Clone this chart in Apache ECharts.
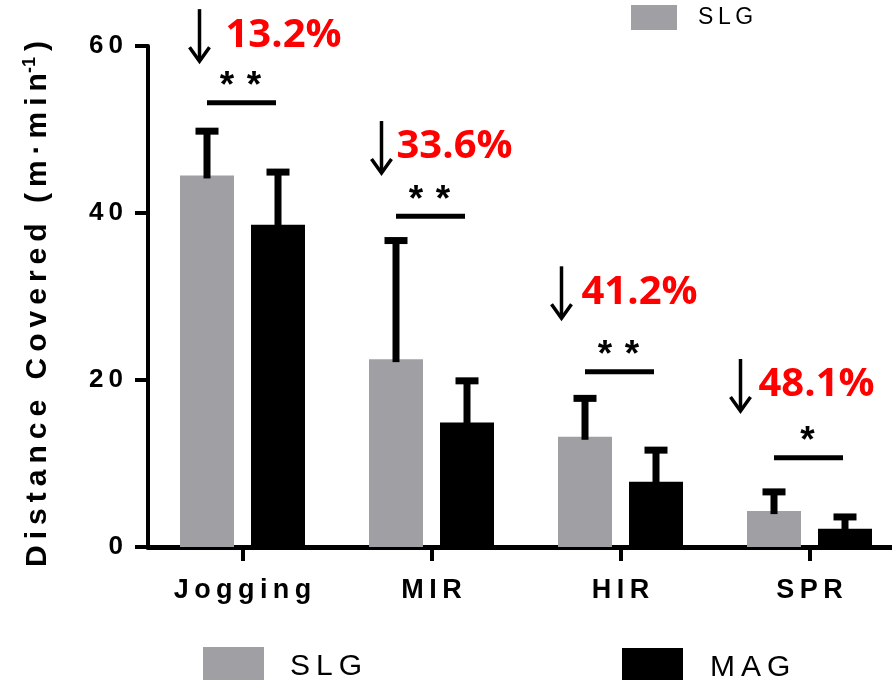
<!DOCTYPE html>
<html>
<head>
<meta charset="utf-8">
<script src="https://cdn.jsdelivr.net/npm/echarts@6/dist/echarts.min.js"></script>
<style>
  html, body { margin: 0; padding: 0; background: #ffffff; }
  #chart { width: 892px; height: 680px; }
</style>
</head>
<body>
<div id="chart"></div>
<script>
// ---- data ----
const categories = ['Jogging', 'MIR', 'HIR', 'SPR'];
const seriesNames = ['SLG', 'MAG'];
const slgMean = [44.5, 22.5, 13.2, 4.3];
const slgSD   = [5.3, 14.2, 4.6, 2.3];
const magMean = [38.6, 14.9, 7.8, 2.2];
const magSD   = [6.3, 5.0, 3.8, 1.4];
const yTicks = [0, 20, 40, 60];
const reductionLabels = ['13.2%', '33.6%', '41.2%', '48.1%'];
const significance = ['**', '**', '**', '*'];
const sigBarLevel = [53.2, 39.6, 21.0, 10.7];

// ---- layout / style constants ----
const FONT = '"Liberation Sans", Arial, sans-serif';
const GREY = '#a0a0a4';
const BAR_W = 54;
const BAR_GAP = 17;
const HALF_PAIR = (BAR_W + BAR_GAP) / 2;
const THIN = '\u2009';
// reduction note placement: [text left offset from category centre px, height in axis units, arrow offset left of text px]
const noteLayout = [
  [-15, 61.3, 28],
  [-33, 47.9, 17],
  [-37, 30.5, 22],
  [-49, 19.4, 20]
];

// letter-spaced text, as in the axis and legend labels
const spaced = s => s.split('').join(THIN);

function errorBarSeries(name, means, sds, side) {
  return {
    type: 'custom',
    name: name + ' SD',
    coordinateSystem: 'cartesian2d',
    z: 4,
    silent: true,
    clip: false,
    data: means.map((m, i) => [i, m, m + sds[i]]),
    renderItem(params, api) {
      const base = api.coord([api.value(0), api.value(1)]);
      const top = api.coord([api.value(0), api.value(2)]);
      const x = base[0] + side * HALF_PAIR;
      return {
        type: 'group',
        children: [
          { type: 'rect', shape: { x: x - 3.5, y: top[1], width: 7, height: base[1] - top[1] + 3 },
            style: { fill: '#000' } },
          { type: 'rect', shape: { x: x - 11.5, y: top[1] - 3.5, width: 23, height: 7 },
            style: { fill: '#000' } }
        ]
      };
    }
  };
}

const notesSeries = {
  type: 'custom',
  name: 'notes',
  coordinateSystem: 'cartesian2d',
  z: 5,
  silent: true,
  clip: false,
  data: categories.map((c, i) => [i, sigBarLevel[i]]),
  renderItem(params, api) {
    const i = params.dataIndex;
    const c = api.coord([api.value(0), api.value(1)]);
    const x1 = c[0] - HALF_PAIR, x2 = c[0] + HALF_PAIR - 2, y = c[1];
    const children = [
      { type: 'rect', shape: { x: x1, y: y - 2.5, width: x2 - x1, height: 5 }, style: { fill: '#000' } }
    ];
    const stars = significance[i].length;
    for (let k = 0; k < stars; k++) {
      const sx = c[0] - 2 + (stars === 1 ? 0 : (k === 0 ? -13.5 : 13.5));
      children.push({
        type: 'text',
        style: { x: sx, y: y - 16, text: '*', fill: '#000', font: 'bold 37px ' + FONT,
                 textAlign: 'center', textVerticalAlign: 'middle' }
      });
    }
    const lay = noteLayout[i];
    const p = api.coord([i, lay[1]]);
    const tx = c[0] + lay[0];
    children.push({
      type: 'text',
      style: { x: tx - 2, y: p[1], text: reductionLabels[i], fill: '#ff0000',
               font: 'bold 40px "Open Sans", sans-serif', textAlign: 'left', textVerticalAlign: 'middle' }
    });
    const ax = tx - lay[2];
    children.push({
      type: 'polyline', shape: { points: [[ax, p[1] - 26], [ax, p[1] + 25]] },
      style: { stroke: '#000', lineWidth: 3.5, fill: null }
    });
    children.push({
      type: 'polyline', shape: { points: [[ax - 10, p[1] + 12], [ax, p[1] + 26], [ax + 10, p[1] + 12]] },
      style: { stroke: '#000', lineWidth: 3.5, fill: null }
    });
    return { type: 'group', children };
  }
};

const chart = echarts.init(document.getElementById('chart'), null, { renderer: 'canvas' });

const option = {
  backgroundColor: '#ffffff',
  animation: false,
  grid: { left: 148, top: 46, width: 756, height: 501, outerBoundsMode: 'none', containLabel: false },
  legend: [
    {
      data: [{ name: 'SLG' }], left: 631, top: 5, padding: 0, itemWidth: 46, itemHeight: 25, icon: 'rect',
      formatter: spaced,
      textStyle: { fontFamily: FONT, fontSize: 23, color: '#000', padding: [0, 0, 0, 16] },
      selectedMode: false
    },
    {
      data: [{ name: 'SLG' }], left: 203, top: 647, padding: 0, itemWidth: 61, itemHeight: 40, icon: 'rect',
      formatter: spaced,
      textStyle: { fontFamily: FONT, fontSize: 30, color: '#000', padding: [0, 0, 0, 21] },
      selectedMode: false
    },
    {
      data: [{ name: 'MAG' }], left: 622, top: 648, padding: 0, itemWidth: 61, itemHeight: 40, icon: 'rect',
      formatter: spaced,
      textStyle: { fontFamily: FONT, fontSize: 30, color: '#000', padding: [0, 0, 0, 22] },
      selectedMode: false
    }
  ],
  xAxis: {
    type: 'category',
    data: categories,
    axisLine: { lineStyle: { color: '#000', width: 5 } },
    axisTick: { show: true, alignWithLabel: true, length: 14, lineStyle: { color: '#000', width: 4 } },
    axisLabel: {
      margin: 30, color: '#000', fontFamily: FONT, fontWeight: 'bold', fontSize: 27,
      formatter: spaced
    },
    splitLine: { show: false }
  },
  yAxis: {
    type: 'value',
    min: yTicks[0], max: yTicks[yTicks.length - 1], interval: yTicks[1] - yTicks[0],
    axisLine: { show: true, lineStyle: { color: '#000', width: 4 } },
    axisTick: { show: true, length: 13, lineStyle: { color: '#000', width: 4 } },
    axisLabel: {
      margin: 25, color: '#000', fontFamily: FONT, fontWeight: 'bold', fontSize: 26,
      formatter: v => spaced(String(v))
    },
    splitLine: { show: false },
    name: '{a|' + spaced('Distance') + THIN + ' ' + THIN + spaced('Covered') + THIN + ' ' + THIN +
          '(' + THIN + 'm' + THIN + '·' + THIN + spaced('min') + '}{s|-1}{a|' + THIN + ')' +
          '\u2002}',
    nameLocation: 'middle',
    nameGap: 95,
    nameTextStyle: {
      rich: {
        a: { fontFamily: FONT, fontWeight: 'bold', fontSize: 30, color: '#000', lineHeight: 32, verticalAlign: 'bottom' },
        s: { fontFamily: FONT, fontWeight: 'bold', fontSize: 18, color: '#000', lineHeight: 18,
             verticalAlign: 'top', padding: [0, 0, 22, 0] }
      }
    }
  },
  series: [
    {
      type: 'bar', name: seriesNames[0], data: slgMean, barWidth: BAR_W,
      barGap: (BAR_GAP / BAR_W * 100).toFixed(1) + '%', itemStyle: { color: GREY }, z: 2
    },
    {
      type: 'bar', name: seriesNames[1], data: magMean, barWidth: BAR_W,
      itemStyle: { color: '#000' }, z: 2
    },
    errorBarSeries(seriesNames[0], slgMean, slgSD, -1),
    errorBarSeries(seriesNames[1], magMean, magSD, 1),
    notesSeries
  ]
};

chart.setOption(option);
</script>
</body>
</html>
